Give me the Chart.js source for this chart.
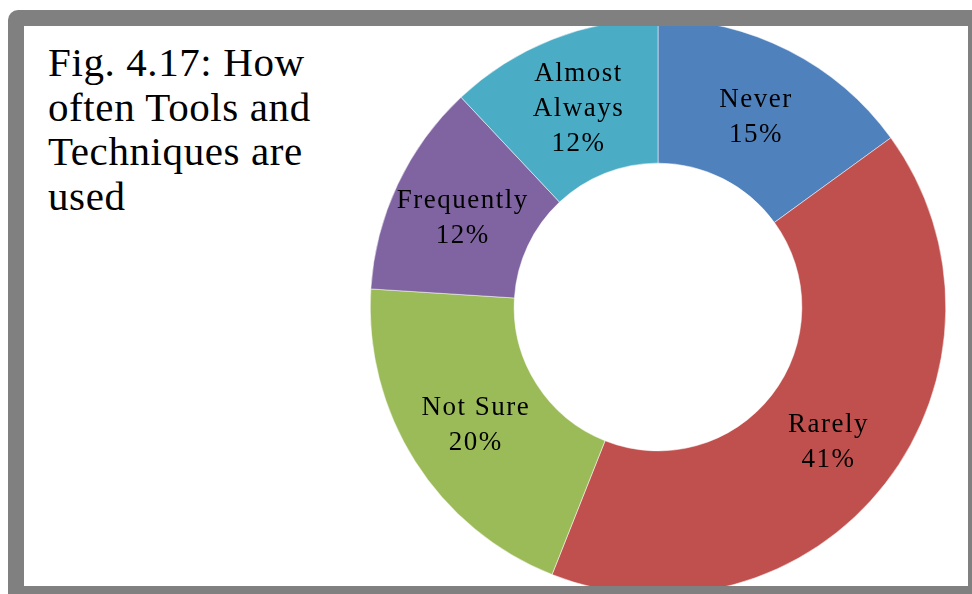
<!DOCTYPE html>
<html>
<head>
<meta charset="utf-8">
<script src="https://cdn.jsdelivr.net/npm/chart.js@4.4.1/dist/chart.umd.min.js"></script>
<style>
    html, body { margin: 0; padding: 0; background: #ffffff; width: 972px; height: 594px; overflow: hidden; }
    #frame { position: absolute; left: 8px; top: 10px; width: 1000px; height: 620px; background: #808080; border-radius: 10px; }
    #panel { position: absolute; left: 24px; top: 26px; width: 944px; height: 560px; background: #ffffff; overflow: hidden; }
    #title { position: absolute; left: 24px; top: 14px; font-family: "Liberation Serif", serif; font-size: 41px; letter-spacing: 0.6px; line-height: 44.5px; color: #000; }
    #chartBox { position: absolute; left: 346px; top: -7px; width: 576px; height: 576px; }
</style>
</head>
<body>
<div id="frame"></div>
<div id="panel">
    <div id="title">Fig. 4.17: How<br>often Tools and<br>Techniques are<br>used</div>
    <div id="chartBox"><canvas id="usageChart"></canvas></div>
</div>
<script>
// --- data ---
const categories = ["Never", "Rarely", "Not Sure", "Frequently", "Almost Always"];
const shares = [15, 41, 20, 12, 12];
const sliceColors = ["#4f81bd", "#c0504d", "#9bbb59", "#8064a2", "#4bacc6"];

// labels in the middle of each slice: name + percent
const sliceLabels = {
    id: "sliceLabels",
    afterDatasetsDraw(chart) {
        const ctx = chart.ctx;
        const meta = chart.getDatasetMeta(0);
        ctx.save();
        ctx.font = '27px "Liberation Serif", serif';
        ctx.letterSpacing = "1.5px";
        ctx.fillStyle = "#000000";
        ctx.textAlign = "center";
        ctx.textBaseline = "middle";
        meta.data.forEach(function (arc, i) {
            const pos = arc.tooltipPosition();
            let lines = [categories[i]];
            if (ctx.measureText(categories[i]).width > 150) {
                lines = categories[i].split(" ");
            }
            lines.push(shares[i] + "%");
            const lh = 35;
            const y0 = pos.y + 3 - (lines.length - 1) * lh / 2;
            lines.forEach(function (t, k) {
                ctx.fillText(t, pos.x, y0 + k * lh);
            });
        });
        ctx.restore();
    }
};

document.addEventListener("DOMContentLoaded", function () {
    const ctxUsage = document.getElementById("usageChart");
    new Chart(ctxUsage, {
        type: "doughnut",
        data: {
            labels: categories,
            datasets: [
                {
                    data: shares,
                    backgroundColor: sliceColors,
                    borderColor: "#ffffff",
                    borderWidth: 0.5,
                },
            ],
        },
        options: {
            responsive: true,
            maintainAspectRatio: false,
            animation: false,
            events: [],
            cutout: "50%",
            layout: { padding: 0 },
            plugins: {
                legend: { display: false },
                tooltip: { enabled: false },
            },
        },
        plugins: [sliceLabels],
    });
});
</script>
</body>
</html>
